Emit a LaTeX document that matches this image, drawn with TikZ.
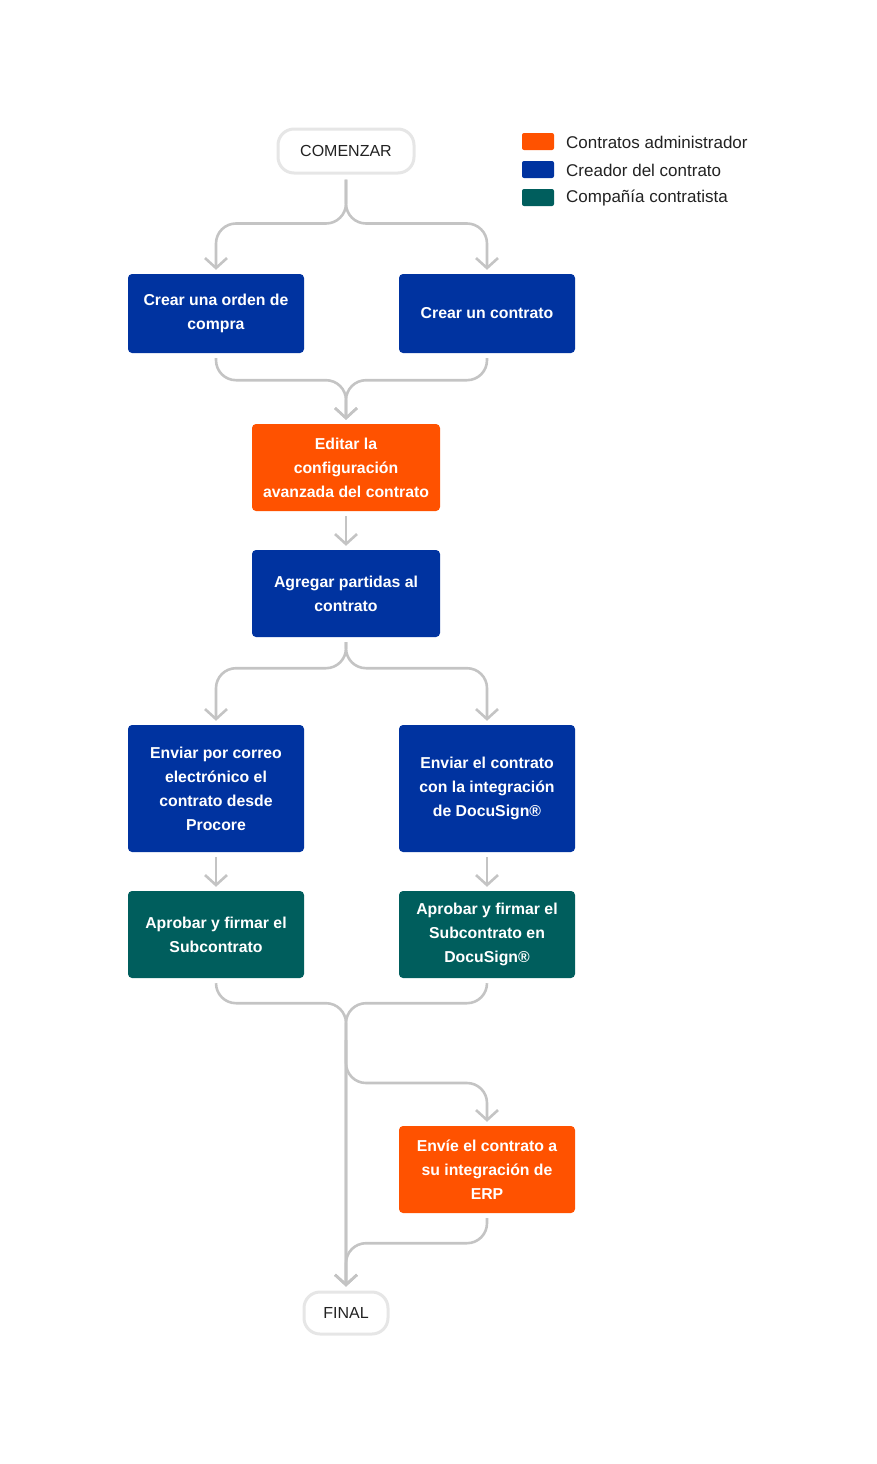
\documentclass[tikz,border=0pt]{standalone}
\usepackage{fontspec}
\setmainfont{Liberation Sans}
\usetikzlibrary{arrows.meta}
\definecolor{corange}{HTML}{FF5200}
\definecolor{cblue}{HTML}{0033A0}
\definecolor{cteal}{HTML}{005E5D}
\definecolor{lgray}{HTML}{C4C4C4}
\definecolor{pillgray}{HTML}{E6E6E6}
\definecolor{txt}{HTML}{222222}
\tikzset{
  box/.style={rounded corners=4pt, minimum width=176pt, minimum height=79pt, text=white,
    font=\bfseries\fontsize{15.8}{24}\selectfont, align=center, inner sep=0pt},
  wide/.style={minimum width=188pt, minimum height=87pt},
  tall/.style={minimum height=87pt},
  pill/.style={draw=pillgray, line width=3pt, fill=white, rounded corners=16pt, text=txt,
    font=\fontsize{16}{18}\selectfont, inner sep=0pt},
  conn/.style={draw=lgray, line width=2.6pt, rounded corners=20pt},
  arr/.style={-{Straight Barb[length=10pt,width=22pt,line width=2.6pt]}, shorten >=4pt},
  swatch/.style={fill=#1, rounded corners=2pt, minimum width=32pt, minimum height=17pt, inner sep=0pt},
  legtext/.style={anchor=west, text=txt, font=\fontsize{17}{18}\selectfont, inner sep=0pt}
}
\begin{document}
\begin{tikzpicture}[x=1pt,y=-1pt]
\useasboundingbox (0,0) rectangle (876,1464);
% nodes
\node[pill, minimum width=136pt, minimum height=44pt] (start) at (346,151) {COMENZAR};
\node[box, fill=cblue] (po) at (216,313.5) {Crear una orden de\\compra};
\node[box, fill=cblue] (ct) at (487,313.5) {Crear un contrato};
\node[box, wide, fill=corange] (edit) at (346,467.5) {Editar la\\configuración\\avanzada del contrato};
\node[box, wide, fill=cblue] (add) at (346,593.5) {Agregar partidas al\\contrato};
\node[box, fill=cblue, minimum height=127pt] (mail) at (216,788.5) {Enviar por correo\\electrónico el\\contrato desde\\Procore};
\node[box, fill=cblue, minimum height=127pt] (docu) at (487,788.5) {Enviar el contrato\\con la integración\\de DocuSign®};
\node[box, tall, fill=cteal] (sign1) at (216,934.5) {Aprobar y firmar el\\Subcontrato};
\node[box, tall, fill=cteal] (sign2) at (487,934.5) {Aprobar y firmar el\\Subcontrato en\\DocuSign®};
\node[box, tall, fill=corange] (erp) at (487,1169.5) {Envíe el contrato a\\su integración de\\ERP};
\node[pill, minimum width=84pt, minimum height=42pt] (final) at (346,1313) {FINAL};
% legend
\node[swatch=corange] (l1) at (538,141.5) {};
\node[swatch=cblue] (l2) at (538,169.5) {};
\node[swatch=cteal] (l3) at (538,197.5) {};
\node[legtext] (t1) at (566,142) {Contratos administrador};
\node[legtext] (t2) at (566,170) {Creador del contrato};
\node[legtext] (t3) at (566,198) {Compañía contratista};
% connectors
\draw[conn,arr,shorten <=5pt] (start.south) -- ++(0,49) -| (po.north);
\draw[conn,arr,shorten <=5pt] (start.south) -- ++(0,49) -| (ct.north);
\draw[conn,arr,shorten <=5pt] (po.south) -- ++(0,27) -| (edit.north);
\draw[conn,arr,shorten <=5pt] (ct.south) -- ++(0,27) -| (edit.north);
\draw[conn,arr,shorten <=5pt] (edit.south) -- (add.north);
\draw[conn,arr,shorten <=5pt] (add.south) -- ++(0,31) -| (mail.north);
\draw[conn,arr,shorten <=5pt] (add.south) -- ++(0,31) -| (docu.north);
\draw[conn,arr,shorten <=5pt] (mail.south) -- (sign1.north);
\draw[conn,arr,shorten <=5pt] (docu.south) -- (sign2.north);
\draw[conn,arr,shorten <=5pt] (sign1.south) -- ++(0,25) -| (final.north);
\draw[conn,arr,shorten <=5pt] (sign2.south) -- ++(0,25) -| (final.north);
\coordinate (split) at (346,1040);
\draw[conn,arr] (split) -- (346,1083) -| (erp.north);
\draw[conn,arr,shorten <=5pt] (erp.south) -- ++(0,30) -| (final.north);
\end{tikzpicture}
\end{document}
